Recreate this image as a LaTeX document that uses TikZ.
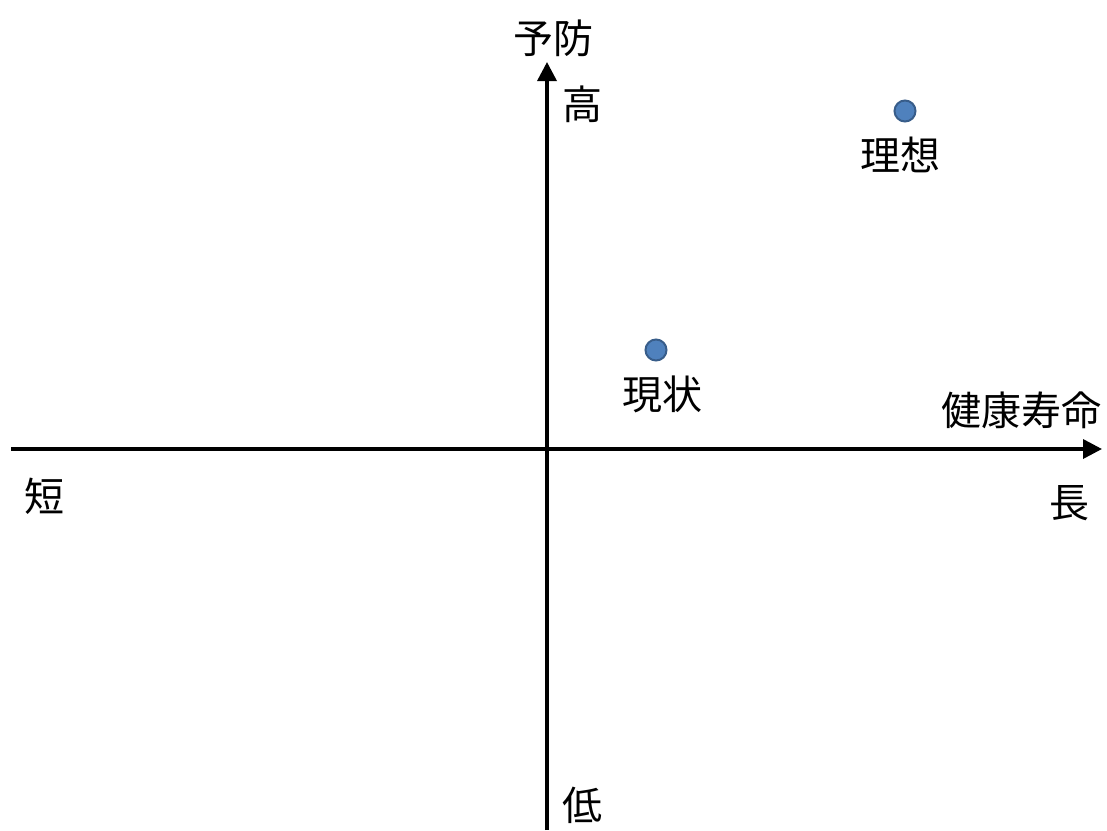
\documentclass[tikz,border=0pt]{standalone}
\usepackage{fontspec}
\setmainfont{Noto Sans CJK JP}
\usetikzlibrary{arrows.meta}
\definecolor{dotfill}{HTML}{4F81BD}
\definecolor{dotline}{HTML}{385D8A}
\begin{document}
\begin{tikzpicture}[x=1pt,y=-1pt,
  axis/.style={line width=3.5pt,-{Triangle[length=19pt,width=19pt]}},
  lbl/.style={font=\fontsize{40}{44}\selectfont,inner sep=0pt,anchor=center},
  pt/.style={circle,fill=dotfill,draw=dotline,line width=2pt,minimum size=21pt,inner sep=0pt}]
\path[use as bounding box] (0,0) rectangle (1107,830);
\coordinate (xs) at (11,449);
\coordinate (xe) at (1102,449);
\coordinate (ys) at (547,830);
\coordinate (ye) at (547,62);
\draw[axis] (xs) -- (xe);
\draw[axis] (ys) -- (ye);
\node[lbl] (yt) at (553,38) {予防};
\node[lbl] (hi) at (582,104) {高};
\node[lbl] (lo) at (582,805) {低};
\node[lbl] (xt) at (1021,410) {健康寿命};
\node[lbl] (sh) at (44,496) {短};
\node[lbl] (lg) at (1069,503) {長};
\node[pt] (ideal) at (905,111) {};
\node[lbl] (idealL) at (900,155) {理想};
\node[pt] (now) at (656,350) {};
\node[lbl] (nowL) at (662,394) {現状};
\end{tikzpicture}
\end{document}
